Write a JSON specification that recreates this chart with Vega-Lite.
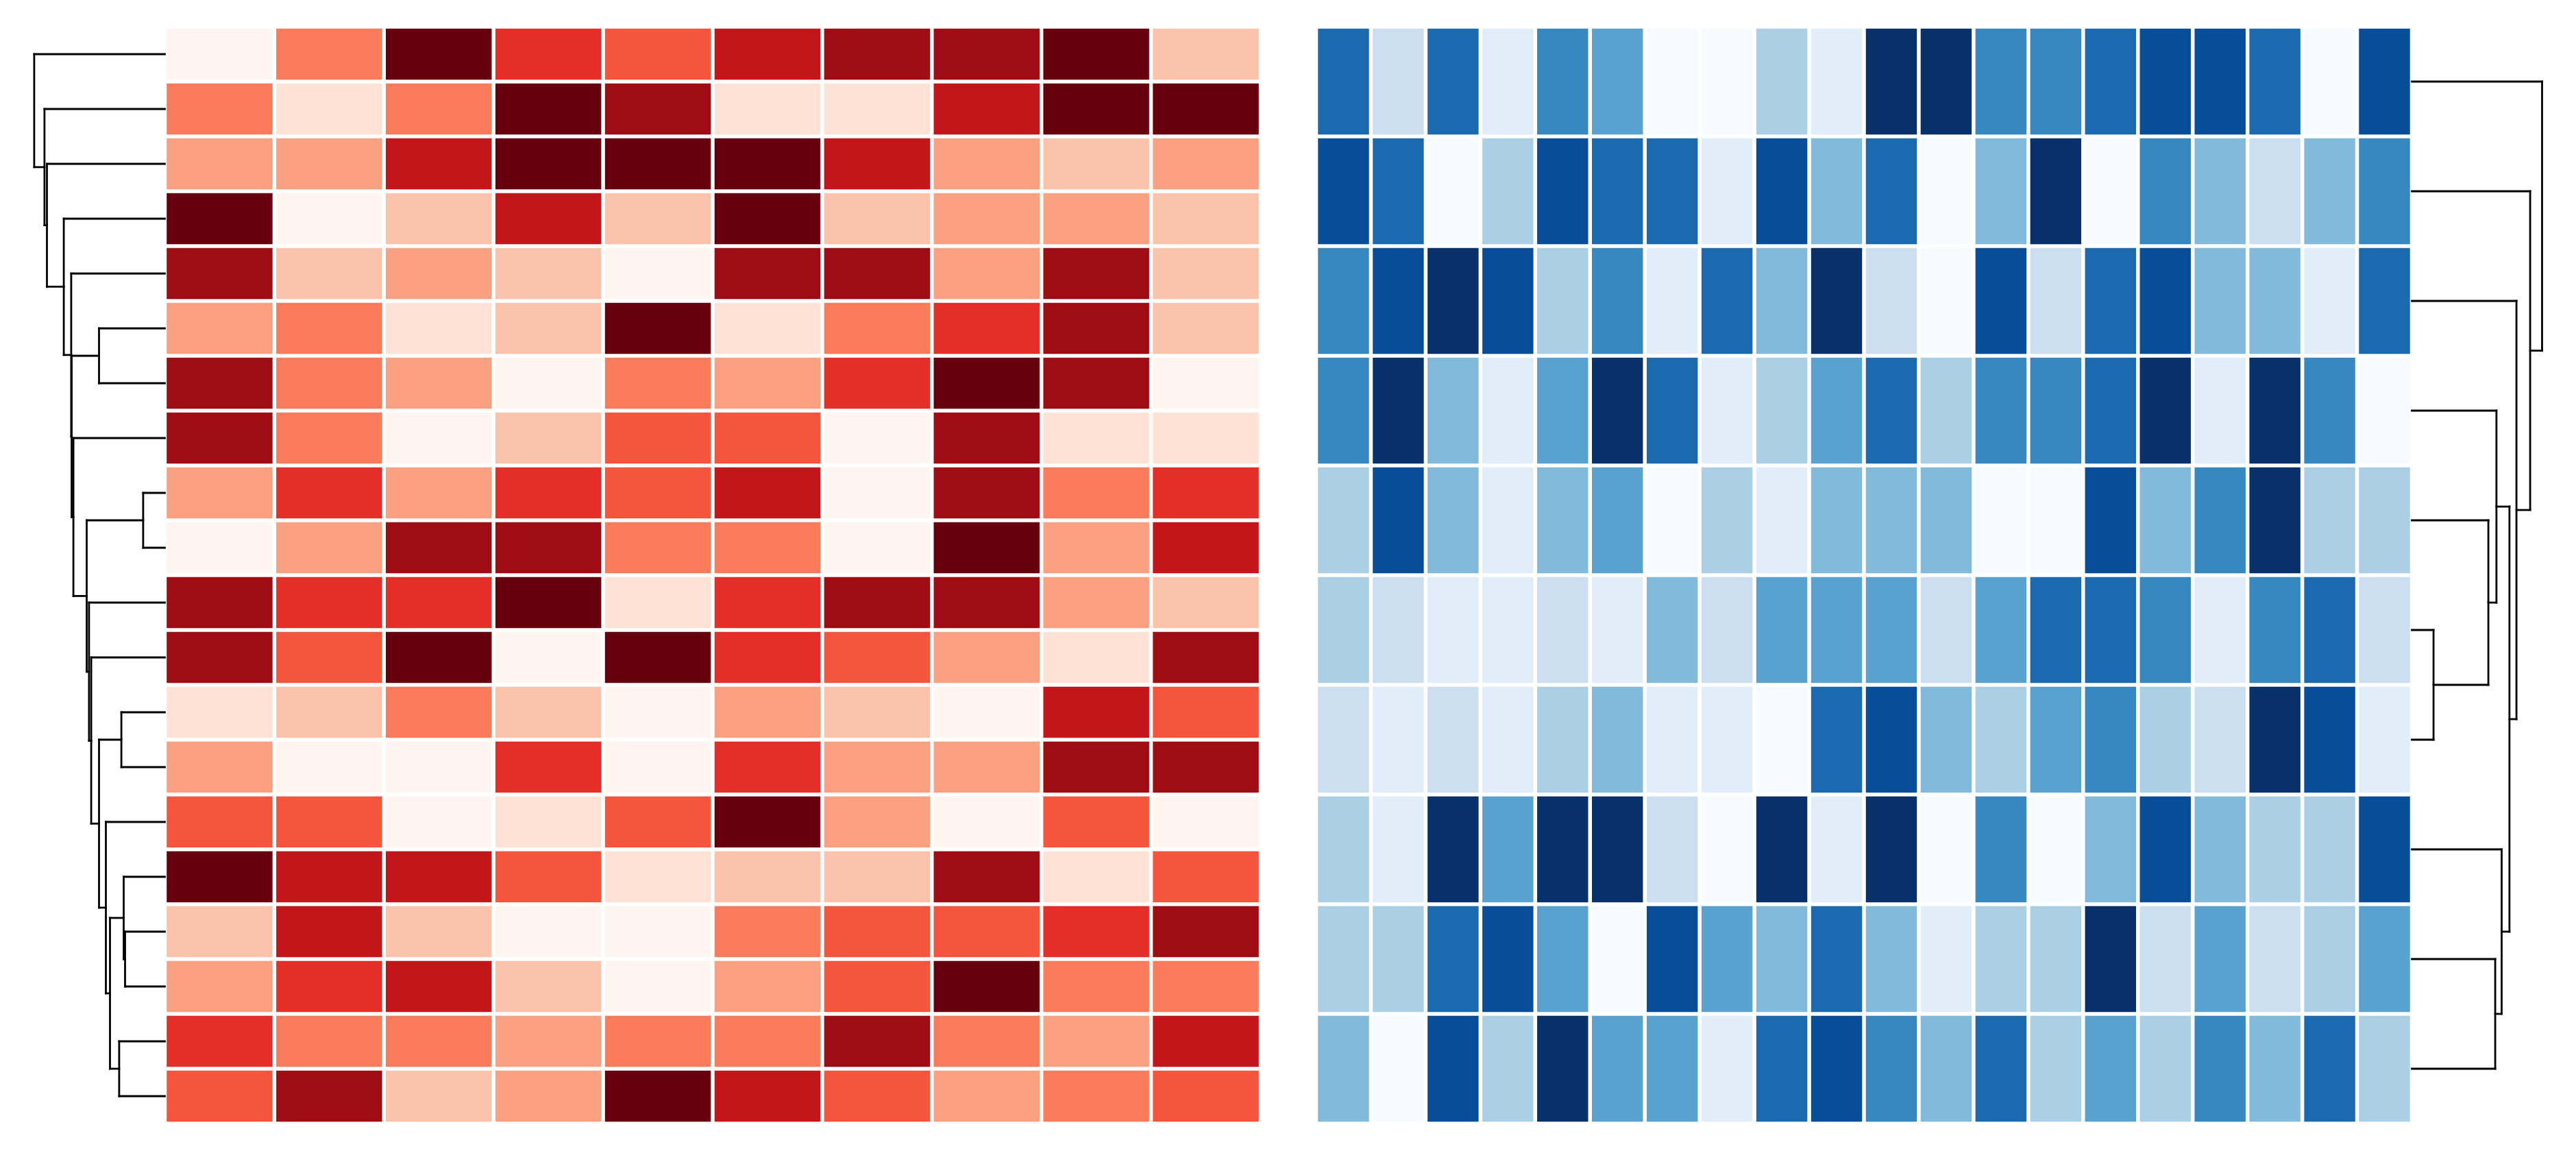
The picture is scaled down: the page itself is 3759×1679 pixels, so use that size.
{
"$schema": "https://vega.github.io/schema/vega-lite/v6.json",
"background": "white",
"padding": {"left": 40.5, "top": 39, "right": 0, "bottom": 0},
"config": {"view": {"stroke": null}},
"bounds": "flush",
"spacing": 0,
"resolve": {"scale": {"x": "independent", "y": "independent", "color": "independent"}},
"datasets": {
"red": [
{"r":1,"c":1,"v":0},{"r":1,"c":2,"v":4},{"r":1,"c":3,"v":9},{"r":1,"c":4,"v":6},{"r":1,"c":5,"v":5},{"r":1,"c":6,"v":7},{"r":1,"c":7,"v":8},{"r":1,"c":8,"v":8},{"r":1,"c":9,"v":9},{"r":1,"c":10,"v":2},
{"r":2,"c":1,"v":4},{"r":2,"c":2,"v":1},{"r":2,"c":3,"v":4},{"r":2,"c":4,"v":9},{"r":2,"c":5,"v":8},{"r":2,"c":6,"v":1},{"r":2,"c":7,"v":1},{"r":2,"c":8,"v":7},{"r":2,"c":9,"v":9},{"r":2,"c":10,"v":9},
{"r":3,"c":1,"v":3},{"r":3,"c":2,"v":3},{"r":3,"c":3,"v":7},{"r":3,"c":4,"v":9},{"r":3,"c":5,"v":9},{"r":3,"c":6,"v":9},{"r":3,"c":7,"v":7},{"r":3,"c":8,"v":3},{"r":3,"c":9,"v":2},{"r":3,"c":10,"v":3},
{"r":4,"c":1,"v":9},{"r":4,"c":2,"v":0},{"r":4,"c":3,"v":2},{"r":4,"c":4,"v":7},{"r":4,"c":5,"v":2},{"r":4,"c":6,"v":9},{"r":4,"c":7,"v":2},{"r":4,"c":8,"v":3},{"r":4,"c":9,"v":3},{"r":4,"c":10,"v":2},
{"r":5,"c":1,"v":8},{"r":5,"c":2,"v":2},{"r":5,"c":3,"v":3},{"r":5,"c":4,"v":2},{"r":5,"c":5,"v":0},{"r":5,"c":6,"v":8},{"r":5,"c":7,"v":8},{"r":5,"c":8,"v":3},{"r":5,"c":9,"v":8},{"r":5,"c":10,"v":2},
{"r":6,"c":1,"v":3},{"r":6,"c":2,"v":4},{"r":6,"c":3,"v":1},{"r":6,"c":4,"v":2},{"r":6,"c":5,"v":9},{"r":6,"c":6,"v":1},{"r":6,"c":7,"v":4},{"r":6,"c":8,"v":6},{"r":6,"c":9,"v":8},{"r":6,"c":10,"v":2},
{"r":7,"c":1,"v":8},{"r":7,"c":2,"v":4},{"r":7,"c":3,"v":3},{"r":7,"c":4,"v":0},{"r":7,"c":5,"v":4},{"r":7,"c":6,"v":3},{"r":7,"c":7,"v":6},{"r":7,"c":8,"v":9},{"r":7,"c":9,"v":8},{"r":7,"c":10,"v":0},
{"r":8,"c":1,"v":8},{"r":8,"c":2,"v":4},{"r":8,"c":3,"v":0},{"r":8,"c":4,"v":2},{"r":8,"c":5,"v":5},{"r":8,"c":6,"v":5},{"r":8,"c":7,"v":0},{"r":8,"c":8,"v":8},{"r":8,"c":9,"v":1},{"r":8,"c":10,"v":1},
{"r":9,"c":1,"v":3},{"r":9,"c":2,"v":6},{"r":9,"c":3,"v":3},{"r":9,"c":4,"v":6},{"r":9,"c":5,"v":5},{"r":9,"c":6,"v":7},{"r":9,"c":7,"v":0},{"r":9,"c":8,"v":8},{"r":9,"c":9,"v":4},{"r":9,"c":10,"v":6},
{"r":10,"c":1,"v":0},{"r":10,"c":2,"v":3},{"r":10,"c":3,"v":8},{"r":10,"c":4,"v":8},{"r":10,"c":5,"v":4},{"r":10,"c":6,"v":4},{"r":10,"c":7,"v":0},{"r":10,"c":8,"v":9},{"r":10,"c":9,"v":3},{"r":10,"c":10,"v":7},
{"r":11,"c":1,"v":8},{"r":11,"c":2,"v":6},{"r":11,"c":3,"v":6},{"r":11,"c":4,"v":9},{"r":11,"c":5,"v":1},{"r":11,"c":6,"v":6},{"r":11,"c":7,"v":8},{"r":11,"c":8,"v":8},{"r":11,"c":9,"v":3},{"r":11,"c":10,"v":2},
{"r":12,"c":1,"v":8},{"r":12,"c":2,"v":5},{"r":12,"c":3,"v":9},{"r":12,"c":4,"v":0},{"r":12,"c":5,"v":9},{"r":12,"c":6,"v":6},{"r":12,"c":7,"v":5},{"r":12,"c":8,"v":3},{"r":12,"c":9,"v":1},{"r":12,"c":10,"v":8},
{"r":13,"c":1,"v":1},{"r":13,"c":2,"v":2},{"r":13,"c":3,"v":4},{"r":13,"c":4,"v":2},{"r":13,"c":5,"v":0},{"r":13,"c":6,"v":3},{"r":13,"c":7,"v":2},{"r":13,"c":8,"v":0},{"r":13,"c":9,"v":7},{"r":13,"c":10,"v":5},
{"r":14,"c":1,"v":3},{"r":14,"c":2,"v":0},{"r":14,"c":3,"v":0},{"r":14,"c":4,"v":6},{"r":14,"c":5,"v":0},{"r":14,"c":6,"v":6},{"r":14,"c":7,"v":3},{"r":14,"c":8,"v":3},{"r":14,"c":9,"v":8},{"r":14,"c":10,"v":8},
{"r":15,"c":1,"v":5},{"r":15,"c":2,"v":5},{"r":15,"c":3,"v":0},{"r":15,"c":4,"v":1},{"r":15,"c":5,"v":5},{"r":15,"c":6,"v":9},{"r":15,"c":7,"v":3},{"r":15,"c":8,"v":0},{"r":15,"c":9,"v":5},{"r":15,"c":10,"v":0},
{"r":16,"c":1,"v":9},{"r":16,"c":2,"v":7},{"r":16,"c":3,"v":7},{"r":16,"c":4,"v":5},{"r":16,"c":5,"v":1},{"r":16,"c":6,"v":2},{"r":16,"c":7,"v":2},{"r":16,"c":8,"v":8},{"r":16,"c":9,"v":1},{"r":16,"c":10,"v":5},
{"r":17,"c":1,"v":2},{"r":17,"c":2,"v":7},{"r":17,"c":3,"v":2},{"r":17,"c":4,"v":0},{"r":17,"c":5,"v":0},{"r":17,"c":6,"v":4},{"r":17,"c":7,"v":5},{"r":17,"c":8,"v":5},{"r":17,"c":9,"v":6},{"r":17,"c":10,"v":8},
{"r":18,"c":1,"v":3},{"r":18,"c":2,"v":6},{"r":18,"c":3,"v":7},{"r":18,"c":4,"v":2},{"r":18,"c":5,"v":0},{"r":18,"c":6,"v":3},{"r":18,"c":7,"v":5},{"r":18,"c":8,"v":9},{"r":18,"c":9,"v":4},{"r":18,"c":10,"v":4},
{"r":19,"c":1,"v":6},{"r":19,"c":2,"v":4},{"r":19,"c":3,"v":4},{"r":19,"c":4,"v":3},{"r":19,"c":5,"v":4},{"r":19,"c":6,"v":4},{"r":19,"c":7,"v":8},{"r":19,"c":8,"v":4},{"r":19,"c":9,"v":3},{"r":19,"c":10,"v":7},
{"r":20,"c":1,"v":5},{"r":20,"c":2,"v":8},{"r":20,"c":3,"v":2},{"r":20,"c":4,"v":3},{"r":20,"c":5,"v":9},{"r":20,"c":6,"v":7},{"r":20,"c":7,"v":5},{"r":20,"c":8,"v":3},{"r":20,"c":9,"v":4},{"r":20,"c":10,"v":5}
],
"blue": [
{"r":1,"c":1,"v":7},{"r":1,"c":2,"v":2},{"r":1,"c":3,"v":7},{"r":1,"c":4,"v":1},{"r":1,"c":5,"v":6},{"r":1,"c":6,"v":5},{"r":1,"c":7,"v":0},{"r":1,"c":8,"v":0},{"r":1,"c":9,"v":3},{"r":1,"c":10,"v":1},{"r":1,"c":11,"v":9},{"r":1,"c":12,"v":9},{"r":1,"c":13,"v":6},{"r":1,"c":14,"v":6},{"r":1,"c":15,"v":7},{"r":1,"c":16,"v":8},{"r":1,"c":17,"v":8},{"r":1,"c":18,"v":7},{"r":1,"c":19,"v":0},{"r":1,"c":20,"v":8},
{"r":2,"c":1,"v":8},{"r":2,"c":2,"v":7},{"r":2,"c":3,"v":0},{"r":2,"c":4,"v":3},{"r":2,"c":5,"v":8},{"r":2,"c":6,"v":7},{"r":2,"c":7,"v":7},{"r":2,"c":8,"v":1},{"r":2,"c":9,"v":8},{"r":2,"c":10,"v":4},{"r":2,"c":11,"v":7},{"r":2,"c":12,"v":0},{"r":2,"c":13,"v":4},{"r":2,"c":14,"v":9},{"r":2,"c":15,"v":0},{"r":2,"c":16,"v":6},{"r":2,"c":17,"v":4},{"r":2,"c":18,"v":2},{"r":2,"c":19,"v":4},{"r":2,"c":20,"v":6},
{"r":3,"c":1,"v":6},{"r":3,"c":2,"v":8},{"r":3,"c":3,"v":9},{"r":3,"c":4,"v":8},{"r":3,"c":5,"v":3},{"r":3,"c":6,"v":6},{"r":3,"c":7,"v":1},{"r":3,"c":8,"v":7},{"r":3,"c":9,"v":4},{"r":3,"c":10,"v":9},{"r":3,"c":11,"v":2},{"r":3,"c":12,"v":0},{"r":3,"c":13,"v":8},{"r":3,"c":14,"v":2},{"r":3,"c":15,"v":7},{"r":3,"c":16,"v":8},{"r":3,"c":17,"v":4},{"r":3,"c":18,"v":4},{"r":3,"c":19,"v":1},{"r":3,"c":20,"v":7},
{"r":4,"c":1,"v":6},{"r":4,"c":2,"v":9},{"r":4,"c":3,"v":4},{"r":4,"c":4,"v":1},{"r":4,"c":5,"v":5},{"r":4,"c":6,"v":9},{"r":4,"c":7,"v":7},{"r":4,"c":8,"v":1},{"r":4,"c":9,"v":3},{"r":4,"c":10,"v":5},{"r":4,"c":11,"v":7},{"r":4,"c":12,"v":3},{"r":4,"c":13,"v":6},{"r":4,"c":14,"v":6},{"r":4,"c":15,"v":7},{"r":4,"c":16,"v":9},{"r":4,"c":17,"v":1},{"r":4,"c":18,"v":9},{"r":4,"c":19,"v":6},{"r":4,"c":20,"v":0},
{"r":5,"c":1,"v":3},{"r":5,"c":2,"v":8},{"r":5,"c":3,"v":4},{"r":5,"c":4,"v":1},{"r":5,"c":5,"v":4},{"r":5,"c":6,"v":5},{"r":5,"c":7,"v":0},{"r":5,"c":8,"v":3},{"r":5,"c":9,"v":1},{"r":5,"c":10,"v":4},{"r":5,"c":11,"v":4},{"r":5,"c":12,"v":4},{"r":5,"c":13,"v":0},{"r":5,"c":14,"v":0},{"r":5,"c":15,"v":8},{"r":5,"c":16,"v":4},{"r":5,"c":17,"v":6},{"r":5,"c":18,"v":9},{"r":5,"c":19,"v":3},{"r":5,"c":20,"v":3},
{"r":6,"c":1,"v":3},{"r":6,"c":2,"v":2},{"r":6,"c":3,"v":1},{"r":6,"c":4,"v":1},{"r":6,"c":5,"v":2},{"r":6,"c":6,"v":1},{"r":6,"c":7,"v":4},{"r":6,"c":8,"v":2},{"r":6,"c":9,"v":5},{"r":6,"c":10,"v":5},{"r":6,"c":11,"v":5},{"r":6,"c":12,"v":2},{"r":6,"c":13,"v":5},{"r":6,"c":14,"v":7},{"r":6,"c":15,"v":7},{"r":6,"c":16,"v":6},{"r":6,"c":17,"v":1},{"r":6,"c":18,"v":6},{"r":6,"c":19,"v":7},{"r":6,"c":20,"v":2},
{"r":7,"c":1,"v":2},{"r":7,"c":2,"v":1},{"r":7,"c":3,"v":2},{"r":7,"c":4,"v":1},{"r":7,"c":5,"v":3},{"r":7,"c":6,"v":4},{"r":7,"c":7,"v":1},{"r":7,"c":8,"v":1},{"r":7,"c":9,"v":0},{"r":7,"c":10,"v":7},{"r":7,"c":11,"v":8},{"r":7,"c":12,"v":4},{"r":7,"c":13,"v":3},{"r":7,"c":14,"v":5},{"r":7,"c":15,"v":6},{"r":7,"c":16,"v":3},{"r":7,"c":17,"v":2},{"r":7,"c":18,"v":9},{"r":7,"c":19,"v":8},{"r":7,"c":20,"v":1},
{"r":8,"c":1,"v":3},{"r":8,"c":2,"v":1},{"r":8,"c":3,"v":9},{"r":8,"c":4,"v":5},{"r":8,"c":5,"v":9},{"r":8,"c":6,"v":9},{"r":8,"c":7,"v":2},{"r":8,"c":8,"v":0},{"r":8,"c":9,"v":9},{"r":8,"c":10,"v":1},{"r":8,"c":11,"v":9},{"r":8,"c":12,"v":0},{"r":8,"c":13,"v":6},{"r":8,"c":14,"v":0},{"r":8,"c":15,"v":4},{"r":8,"c":16,"v":8},{"r":8,"c":17,"v":4},{"r":8,"c":18,"v":3},{"r":8,"c":19,"v":3},{"r":8,"c":20,"v":8},
{"r":9,"c":1,"v":3},{"r":9,"c":2,"v":3},{"r":9,"c":3,"v":7},{"r":9,"c":4,"v":8},{"r":9,"c":5,"v":5},{"r":9,"c":6,"v":0},{"r":9,"c":7,"v":8},{"r":9,"c":8,"v":5},{"r":9,"c":9,"v":4},{"r":9,"c":10,"v":7},{"r":9,"c":11,"v":4},{"r":9,"c":12,"v":1},{"r":9,"c":13,"v":3},{"r":9,"c":14,"v":3},{"r":9,"c":15,"v":9},{"r":9,"c":16,"v":2},{"r":9,"c":17,"v":5},{"r":9,"c":18,"v":2},{"r":9,"c":19,"v":3},{"r":9,"c":20,"v":5},
{"r":10,"c":1,"v":4},{"r":10,"c":2,"v":0},{"r":10,"c":3,"v":8},{"r":10,"c":4,"v":3},{"r":10,"c":5,"v":9},{"r":10,"c":6,"v":5},{"r":10,"c":7,"v":5},{"r":10,"c":8,"v":1},{"r":10,"c":9,"v":7},{"r":10,"c":10,"v":8},{"r":10,"c":11,"v":6},{"r":10,"c":12,"v":4},{"r":10,"c":13,"v":7},{"r":10,"c":14,"v":3},{"r":10,"c":15,"v":5},{"r":10,"c":16,"v":3},{"r":10,"c":17,"v":6},{"r":10,"c":18,"v":4},{"r":10,"c":19,"v":7},{"r":10,"c":20,"v":3}
],
"ldend": [
{"p1":9,"h1":0,"p2":10,"h2":0,"H":1.58},
{"p1":6,"h1":0,"p2":7,"h2":0,"H":4.8},
{"p1":13,"h1":0,"p2":14,"h2":0,"H":3.17},
{"p1":17,"h1":0,"p2":18,"h2":0,"H":2.9},
{"p1":16,"h1":0,"p2":17.5,"h2":2.9,"H":3.0},
{"p1":19,"h1":0,"p2":20,"h2":0,"H":3.33},
{"p1":16.75,"h1":3.0,"p2":19.5,"h2":3.33,"H":4.0},
{"p1":15,"h1":0,"p2":18.125,"h2":4.0,"H":4.3},
{"p1":13.5,"h1":3.17,"p2":16.5625,"h2":4.3,"H":4.8},
{"p1":12,"h1":0,"p2":15.03,"h2":4.8,"H":5.37},
{"p1":11,"h1":0,"p2":13.52,"h2":5.37,"H":5.53},
{"p1":9.5,"h1":1.58,"p2":12.26,"h2":5.53,"H":5.7},
{"p1":8,"h1":0,"p2":10.88,"h2":5.7,"H":6.67},
{"p1":6.5,"h1":4.8,"p2":9.44,"h2":6.67,"H":6.8},
{"p1":5,"h1":0,"p2":7.97,"h2":6.8,"H":6.83},
{"p1":4,"h1":0,"p2":6.485,"h2":6.83,"H":7.37},
{"p1":3,"h1":0,"p2":5.24,"h2":7.37,"H":8.6},
{"p1":2,"h1":0,"p2":4.12,"h2":8.6,"H":8.78},
{"p1":1,"h1":0,"p2":3.06,"h2":8.78,"H":9.53}
],
"rdend": [
{"p1":6,"h1":0,"p2":7,"h2":0,"H":1.58},
{"p1":5,"h1":0,"p2":6.5,"h2":1.58,"H":5.58},
{"p1":4,"h1":0,"p2":5.75,"h2":5.58,"H":6.17},
{"p1":9,"h1":0,"p2":10,"h2":0,"H":6.08},
{"p1":8,"h1":0,"p2":9.5,"h2":6.08,"H":6.55},
{"p1":4.875,"h1":6.17,"p2":8.75,"h2":6.55,"H":7.12},
{"p1":3,"h1":0,"p2":6.8125,"h2":7.12,"H":7.63},
{"p1":2,"h1":0,"p2":4.906,"h2":7.63,"H":8.63},
{"p1":1,"h1":0,"p2":3.453,"h2":8.63,"H":9.5}
]
},
"hconcat": [
{
"width": 200, "height": 1600,
"data": {"name": "ldend"},
"layer": [
{"mark": {"type": "rule", "color": "black", "strokeWidth": 2.8, "strokeCap": "square"},
 "encoding": {
  "x": {"field": "h1", "type": "quantitative", "axis": null, "scale": {"domain": [0, 10], "reverse": true, "nice": false, "zero": false}},
  "x2": {"field": "H"},
  "y": {"field": "p1", "type": "quantitative", "axis": null, "scale": {"domain": [0.5, 20.5], "reverse": true, "nice": false, "zero": false}}}},
{"mark": {"type": "rule", "color": "black", "strokeWidth": 2.8, "strokeCap": "square"},
 "encoding": {
  "x": {"field": "H", "type": "quantitative", "axis": null, "scale": {"domain": [0, 10], "reverse": true, "nice": false, "zero": false}},
  "y": {"field": "p1", "type": "quantitative", "axis": null, "scale": {"domain": [0.5, 20.5], "reverse": true, "nice": false, "zero": false}},
  "y2": {"field": "p2"}}},
{"mark": {"type": "rule", "color": "black", "strokeWidth": 2.8, "strokeCap": "square"},
 "encoding": {
  "x": {"field": "H", "type": "quantitative", "axis": null, "scale": {"domain": [0, 10], "reverse": true, "nice": false, "zero": false}},
  "x2": {"field": "h2"},
  "y": {"field": "p2", "type": "quantitative", "axis": null, "scale": {"domain": [0.5, 20.5], "reverse": true, "nice": false, "zero": false}}}}
]
},
{
"width": 1679.8, "height": 1600,
"data": {"name": "red"},
"mark": {"type": "rect"},
"encoding": {
 "x": {"field": "c", "type": "ordinal", "axis": null, "scale": {"domain": [1,2,3,4,5,6,7,8,9,10], "range": [0, 1599], "paddingInner": 0.034, "paddingOuter": 0.017}},
 "y": {"field": "r", "type": "ordinal", "axis": null, "scale": {"domain": [1,2,3,4,5,6,7,8,9,10,11,12,13,14,15,16,17,18,19,20], "paddingInner": 0.069, "paddingOuter": 0.0345}},
 "color": {"field": "v", "type": "ordinal", "legend": null, "scale": {"domain": [0,1,2,3,4,5,6,7,8,9], "range": ["#fff5f0","#fee2d5","#fcc3ac","#fca082","#fb7c5c","#f6553d","#e32f27","#c3161b","#9e0d14","#67000d"]}}
}
},
{
"width": 1599, "height": 1600,
"data": {"name": "blue"},
"mark": {"type": "rect"},
"encoding": {
 "x": {"field": "c", "type": "ordinal", "axis": null, "scale": {"domain": [1,2,3,4,5,6,7,8,9,10,11,12,13,14,15,16,17,18,19,20], "paddingInner": 0.069, "paddingOuter": 0.0345}},
 "y": {"field": "r", "type": "ordinal", "axis": null, "scale": {"domain": [1,2,3,4,5,6,7,8,9,10], "paddingInner": 0.034, "paddingOuter": 0.017}},
 "color": {"field": "v", "type": "ordinal", "legend": null, "scale": {"domain": [0,1,2,3,4,5,6,7,8,9], "range": ["#f7fbff","#e1edf8","#cbdff1","#abd0e6","#82badb","#59a2cf","#3787c0","#1b6aaf","#084d97","#08306b"]}}
}
},
{
"width": 200, "height": 1600,
"data": {"name": "rdend"},
"layer": [
{"mark": {"type": "rule", "color": "black", "strokeWidth": 2.8, "strokeCap": "square"},
 "encoding": {
  "x": {"field": "h1", "type": "quantitative", "axis": null, "scale": {"domain": [0, 10], "nice": false, "zero": false}},
  "x2": {"field": "H"},
  "y": {"field": "p1", "type": "quantitative", "axis": null, "scale": {"domain": [0.5, 10.5], "reverse": true, "nice": false, "zero": false}}}},
{"mark": {"type": "rule", "color": "black", "strokeWidth": 2.8, "strokeCap": "square"},
 "encoding": {
  "x": {"field": "H", "type": "quantitative", "axis": null, "scale": {"domain": [0, 10], "nice": false, "zero": false}},
  "y": {"field": "p1", "type": "quantitative", "axis": null, "scale": {"domain": [0.5, 10.5], "reverse": true, "nice": false, "zero": false}},
  "y2": {"field": "p2"}}},
{"mark": {"type": "rule", "color": "black", "strokeWidth": 2.8, "strokeCap": "square"},
 "encoding": {
  "x": {"field": "H", "type": "quantitative", "axis": null, "scale": {"domain": [0, 10], "nice": false, "zero": false}},
  "x2": {"field": "h2"},
  "y": {"field": "p2", "type": "quantitative", "axis": null, "scale": {"domain": [0.5, 10.5], "reverse": true, "nice": false, "zero": false}}}}
]
}
]
}
